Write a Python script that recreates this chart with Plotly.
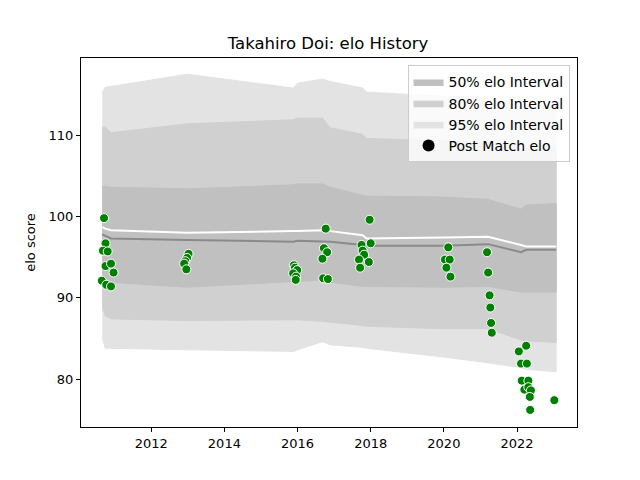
import plotly.graph_objects as go

# band knots (decimal years) and interval bounds
band_years = [2010.66, 2010.74, 2010.90, 2012.99, 2015.89, 2016.00, 2016.68, 2016.90,
              2017.78, 2017.89, 2020.00, 2021.21, 2022.11, 2022.25, 2023.07]
hi95 = [115.2, 115.9, 116.0, 117.5, 115.8, 116.4, 116.9, 116.6, 115.8, 115.3, 114.8, 114.6, 113.3, 113.6, 113.6]
hi80 = [111.0, 111.0, 110.3, 111.4, 111.9, 112.1, 112.1, 110.9, 110.1, 109.6, 109.3, 109.0, 108.2, 108.4, 108.4]
hi50 = [103.7, 103.7, 103.6, 103.4, 103.9, 104.0, 104.0, 103.6, 102.6, 102.5, 102.4, 102.1, 100.9, 101.4, 101.6]
mean_elo = [98.7, 98.5, 98.3, 98.0, 98.2, 98.2, 98.3, 98.2, 97.7, 97.3, 97.4, 97.5, 96.5, 96.3, 96.3]
median_elo = [97.8, 97.6, 97.3, 97.1, 96.9, 97.0, 96.9, 96.9, 96.5, 96.4, 96.4, 96.6, 95.6, 95.9, 95.9]
lo50 = [92.2, 92.1, 91.9, 91.3, 92.0, 92.0, 92.2, 91.9, 91.4, 91.4, 91.3, 91.4, 90.7, 90.7, 90.7]
lo80 = [88.9, 87.8, 87.4, 87.2, 87.3, 87.3, 87.1, 87.0, 86.6, 86.5, 86.2, 86.2, 84.8, 84.7, 84.5]
lo95 = [85.2, 83.8, 83.8, 83.6, 83.4, 83.6, 84.6, 84.2, 83.9, 83.8, 82.7, 82.0, 81.4, 81.2, 80.9]

# post match elo points
match_years = [2010.71, 2010.75, 2010.68, 2010.81, 2010.75, 2010.90, 2010.97, 2010.65, 2010.77, 2010.90,
               2013.02, 2012.98, 2012.93, 2012.90, 2012.96,
               2015.90, 2015.93, 2015.99, 2015.88, 2015.96, 2015.95,
               2016.77, 2016.72, 2016.81, 2016.68, 2016.70, 2016.83,
               2017.97, 2017.75, 2018.00, 2017.78, 2017.82, 2017.68, 2017.95, 2017.71,
               2020.12, 2020.03, 2020.16, 2020.07, 2020.18,
               2021.18, 2021.21, 2021.25, 2021.27, 2021.29, 2021.31,
               2022.25, 2022.05, 2022.11, 2022.27, 2022.13, 2022.31, 2022.20, 2022.31, 2022.38,
               2022.35, 2022.36, 2023.02]
match_elo = [99.8, 96.7, 95.8, 95.7, 93.9, 94.2, 93.1, 92.1, 91.6, 91.4,
             95.4, 94.9, 94.5, 94.2, 93.5,
             94.0, 93.7, 93.4, 93.0, 92.6, 92.2,
             98.5, 96.1, 95.6, 94.8, 92.4, 92.3,
             99.6, 96.5, 96.7, 95.8, 95.3, 94.7, 94.4, 93.7,
             96.2, 94.7, 94.7, 93.7, 92.6,
             95.6, 93.1, 90.3, 88.8, 86.9, 85.7,
             84.1, 83.4, 81.9, 81.9, 79.8, 79.8, 78.7, 79.0, 78.6,
             77.8, 76.2, 77.4]

x_ticks = [2012, 2014, 2016, 2018, 2020, 2022]
y_ticks = [80, 90, 100, 110]

FONT = "DejaVu Sans"


def band(lo, hi):
    return band_years + band_years[::-1], hi + lo[::-1]


fig = go.Figure()
for rank, name, lo, hi, color in [
    (3, "95% elo Interval", lo95, hi95, "#e3e3e3"),
    (2, "80% elo Interval", lo80, hi80, "#d0d0d0"),
    (1, "50% elo Interval", lo50, hi50, "#c0c0c0"),
]:
    bx, by = band(lo, hi)
    fig.add_trace(go.Scatter(x=bx, y=by, fill="toself", fillcolor=color, mode="lines",
                             line={"color": color, "width": 1}, name=name, legendrank=rank,
                             hoverinfo="skip"))

fig.add_trace(go.Scatter(x=band_years, y=median_elo, mode="lines",
                         line={"color": "#8a8a8a", "width": 2}, showlegend=False))
fig.add_trace(go.Scatter(x=band_years, y=mean_elo, mode="lines",
                         line={"color": "white", "width": 2}, showlegend=False))
fig.add_trace(go.Scatter(x=match_years, y=match_elo, mode="markers",
                         marker={"color": "green", "size": 9, "line": {"color": "white", "width": 1}},
                         showlegend=False))
# legend marker only
fig.add_trace(go.Scatter(x=[None], y=[None], mode="markers", marker={"color": "black", "size": 12},
                         name="Post Match elo", legendrank=4))

axis_common = dict(showline=True, linecolor="black", linewidth=1, mirror=True, ticks="outside",
                   ticklen=4, tickcolor="black", showgrid=False, zeroline=False,
                   tickfont={"family": FONT, "size": 13, "color": "black"})
fig.update_xaxes(range=[2010.08, 2023.64], tickvals=x_ticks, ticktext=[str(t) for t in x_ticks], **axis_common)
fig.update_yaxes(range=[74.1, 119.5], tickvals=y_ticks,
                 title={"text": "elo score", "font": {"family": FONT, "size": 13, "color": "black"},
                        "standoff": 10}, **axis_common)

fig.update_layout(
    width=640, height=480,
    margin={"l": 73, "r": 71, "t": 50, "b": 61},
    paper_bgcolor="white", plot_bgcolor="white",
    title={"text": "Takahiro Doi: elo History", "x": 0.5, "xanchor": "center",
           "y": 0.927, "yanchor": "middle", "font": {"family": FONT, "size": 16.5, "color": "black"}},
    legend={"x": 0.985, "y": 0.98, "xanchor": "right", "yanchor": "top",
            "bgcolor": "rgba(255,255,255,0.8)", "bordercolor": "#cccccc", "borderwidth": 1,
            "font": {"family": FONT, "size": 14, "color": "black"}},
    font={"family": FONT},
)
fig.write_html("out.html")
